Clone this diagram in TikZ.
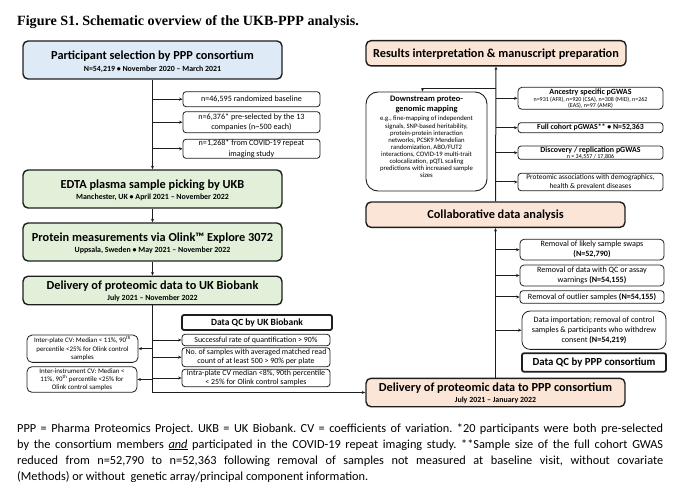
\documentclass[tikz,border=0pt]{standalone}
\usepackage{fontspec}
\setmainfont{Carlito}
\newfontfamily\titlefont{Liberation Serif}
\usetikzlibrary{arrows.meta,calc}
\definecolor{cblue}{HTML}{DEEBF7}
\definecolor{cgreen}{HTML}{E2F0D9}
\definecolor{cpeach}{HTML}{FBE5D6}
\definecolor{cline}{HTML}{1E1E1E}
\frenchspacing
\tikzset{
 bigbox/.style={draw=cline, line width=1.4pt, rounded corners=5pt, inner sep=0pt},
 smallbox/.style={draw=cline, line width=0.8pt, rounded corners=3pt, align=center, inner sep=0pt},
 qcbox/.style={draw=cline, line width=1.8pt, rounded corners=2pt, fill=white, inner sep=0pt},
 bigtitle/.style={font=\fontsize{12.3}{13}\selectfont\bfseries, inner sep=0pt},
 subtitle/.style={font=\fontsize{7.9}{8}\selectfont\bfseries, inner sep=0pt},
 conn/.style={draw=cline, line width=1pt},
 arr/.style={conn, -{Stealth[length=3.5pt,width=3pt]}},
 foot/.style={anchor=base west, inner sep=0pt, font=\fontsize{12.3}{14}\selectfont},
}
\begin{document}
\begin{tikzpicture}[x=1pt,y=-1pt]
\useasboundingbox (0,0) rectangle (681,492);
% title
\node[anchor=base west, inner sep=0pt, font=\titlefont\fontsize{14.1}{16}\selectfont\bfseries] (title) at (17,25.5) {Figure S1. Schematic overview of the UKB-PPP analysis.};

% ---------- left column ----------
\node[bigbox, fill=cblue, minimum width=259pt, minimum height=38pt] (p1) at (152.5,60) {};
\node[bigtitle] (p1t) at (152.5,56) {Participant selection by PPP consortium};
\node[subtitle] (p1s) at (152.5,69.5) {N=54,219 • November 2020 – March 2021};

\node[smallbox, minimum width=137pt, minimum height=15pt, font=\fontsize{8.1}{9.5}\selectfont] (b1) at (251.5,99.2) {n=46,595 randomized baseline};
\node[smallbox, minimum width=137pt, minimum height=21pt, font=\fontsize{8.1}{10.2}\selectfont] (b2) at (251.5,122.2) {n=6,376* pre-selected by the 13\\companies (n\textasciitilde500 each)};
\node[smallbox, minimum width=137pt, minimum height=19pt, font=\fontsize{8.1}{10.5}\selectfont] (b3) at (251.5,148.8) {n=1,268* from COVID-19 repeat\\imaging study};

\node[bigbox, fill=cgreen, minimum width=259pt, minimum height=38pt] (edta) at (152.5,189) {};
\node[bigtitle] (edtat) at (152.5,185) {EDTA plasma sample picking by UKB};
\node[subtitle] (edtas) at (152.5,197) {Manchester, UK • April 2021 – November 2022};

\node[bigbox, fill=cgreen, minimum width=259pt, minimum height=38pt] (prot) at (152.5,242) {};
\node[bigtitle] (prott) at (152.5,238.3) {Protein measurements via Olink™ Explore 3072};
\node[subtitle] (prots) at (152.5,250.3) {Uppsala, Sweden • May 2021 – November 2022};

\node[bigbox, fill=cgreen, minimum width=259pt, minimum height=28.5pt] (dukb) at (152.5,290.5) {};
\node[bigtitle] (dukbt) at (152.5,286) {Delivery of proteomic data to UK Biobank};
\node[subtitle] (dukbs) at (152.5,298) {July 2021 – November 2022};

\node[qcbox, minimum width=150pt, minimum height=15pt, font=\fontsize{9.5}{10}\selectfont\bfseries] (qcukb) at (257,322.5) {Data QC by UK Biobank};
\node[smallbox, minimum width=148pt, minimum height=11.4pt, font=\fontsize{7.9}{8.7}\selectfont] (r1) at (256,340) {Successful rate of quantification > 90\%};
\node[smallbox, minimum width=148pt, minimum height=19pt, font=\fontsize{7.9}{8.7}\selectfont] (r2) at (256,357.2) {No. of samples with averaged matched read\\count of at least 500 > 90\% per plate};
\node[smallbox, minimum width=148pt, minimum height=17.4pt, font=\fontsize{7.9}{8.7}\selectfont] (r3) at (256,378) {Intra-plate CV median <8\%, 90th percentile\\< 25\% for Olink control samples};

\node[smallbox, rounded corners=5pt, minimum width=111pt, minimum height=27.3pt, font=\fontsize{6.9}{8.6}\selectfont] (lb1) at (82.5,348.7) {Inter-plate CV: Median < 11\%, 90\textsuperscript{th}\\percentile <25\% for Olink control\\samples};
\node[smallbox, rounded corners=5pt, minimum width=110pt, minimum height=25.6pt, font=\fontsize{6.9}{8.3}\selectfont] (lb2) at (82,379.5) {Inter-instrument CV: Median <\\11\%, 90\textsuperscript{th} percentile <25\% for\\Olink control samples};

% ---------- right column ----------
\node[bigbox, fill=cpeach, minimum width=260pt, minimum height=25.3pt] (res) at (496,53.3) {};
\node[bigtitle] (rest) at (496,54) {Results interpretation \& manuscript preparation};

\node[draw=cline, line width=0.9pt, rounded corners=12pt, minimum width=121pt, minimum height=99pt, inner sep=0pt] (down) at (426.5,141.5) {};
\node[inner sep=0pt, align=center, font=\fontsize{8.4}{10}\selectfont\bfseries] (downh) at (426.5,104.5) {Downstream proteo-\\genomic mapping};
\node[inner sep=0pt, align=center, font=\fontsize{6.7}{7.1}\selectfont] (downb) at (426.5,147) {e.g., fine-mapping of independent\\signals, SNP-based heritability,\\protein-protein interaction\\networks, PCSK9 Mendelian\\randomization, ABO/FUT2\\interactions, COVID-19 multi-trait\\colocalization, pQTL scaling\\predictions with increased sample\\sizes};

\node[smallbox, rounded corners=4pt, minimum width=145pt, minimum height=22pt] (anc) at (590.5,98.3) {};
\node[inner sep=0pt, font=\fontsize{8}{8}\selectfont\bfseries] (anct) at (590.5,92) {Ancestry specific pGWAS};
\node[inner sep=0pt, align=center, font=\fontsize{6}{6.2}\selectfont] (ancs) at (590.5,102.5) {n=931 (AFR), n=920 (CSA), n=308 (MID), n=262\\(EAS), n=97 (AMR)};

\node[smallbox, minimum width=145pt, minimum height=10pt, font=\fontsize{7.8}{8}\selectfont\bfseries] (full) at (590.5,127.7) {Full cohort pGWAS** • N=52,363};

\node[smallbox, minimum width=145pt, minimum height=13.3pt] (disc) at (590.5,152.7) {};
\node[inner sep=0pt, font=\fontsize{7.9}{8}\selectfont\bfseries] (disct) at (590.5,150.3) {Discovery / replication pGWAS};
\node[inner sep=0pt, font=\fontsize{6}{6.2}\selectfont] (discs) at (590.5,156.8) {n = 34,557 / 17,806};

\node[smallbox, minimum width=145pt, minimum height=17.4pt, font=\fontsize{7.3}{8.3}\selectfont] (pa) at (590.5,182) {Proteomic associations with demographics,\\health \& prevalent diseases};

\node[bigbox, fill=cpeach, minimum width=259pt, minimum height=25.3pt] (coll) at (495.5,214.7) {};
\node[bigtitle] (collt) at (495.5,215) {Collaborative data analysis};

\node[smallbox, rounded corners=4pt, minimum width=144pt, minimum height=20.7pt, font=\fontsize{8.1}{10}\selectfont] (rs1) at (592,249.7) {Removal of likely sample swaps\\\textbf{(N=52,790)}};
\node[smallbox, rounded corners=4pt, minimum width=144pt, minimum height=21pt, font=\fontsize{8.1}{10}\selectfont] (rs2) at (592,275.5) {Removal of data with QC or assay\\warnings \textbf{(N=54,155)}};
\node[smallbox, rounded corners=3pt, minimum width=144pt, minimum height=12.6pt, font=\fontsize{8.1}{10}\selectfont] (rs3) at (592,297) {Removal of outlier samples \textbf{(N=54,155)}};
\node[smallbox, rounded corners=8pt, minimum width=144pt, minimum height=38.3pt, font=\fontsize{8.1}{9.8}\selectfont] (rs4) at (594,330.2) {Data importation; removal of control\\samples \& participants who withdrew\\consent \textbf{(N=54,219)}};
\node[qcbox, minimum width=144pt, minimum height=18.4pt, font=\fontsize{10.8}{11}\selectfont\bfseries] (qcppp) at (594,362.5) {Data QC by PPP consortium};

\node[bigbox, fill=cpeach, minimum width=259pt, minimum height=28.4pt] (dppp) at (495.5,392.5) {};
\node[bigtitle] (dpppt) at (495.5,388.3) {Delivery of proteomic data to PPP consortium};
\node[subtitle] (dppps) at (495.5,400.2) {July 2021 – January 2022};

% ---------- connectors left ----------
\draw[arr] (p1.south) -- (edta.north);
\draw[arr] (p1.south |- b1.west) -- (b1.west);
\draw[arr] (p1.south |- b2.west) -- (b2.west);
\draw[arr] (p1.south |- b3.west) -- (b3.west);
\draw[arr] (edta.south) -- (prot.north);
\draw[arr] (prot.south) -- (dukb.north);
\coordinate (lcorner) at (dukb.south |- dppp.west);
\draw[arr] (dukb.south) -- (lcorner) -- (dppp.west);
\draw[arr] (dukb.south |- r1.west) -- (r1.west);
\draw[arr] (dukb.south |- r2.west) -- (r2.west);
\draw[arr] (dukb.south |- r3.west) -- (r3.west);
\draw[arr] (dukb.south |- lb1.east) -- (lb1.east);
\draw[arr] (dukb.south |- lb2.east) -- (lb2.east);

% ---------- connectors right ----------
\draw[arr] (coll.north) -- (res.south);
\coordinate (dturn) at ($(res.south)+(0,22)$);
\draw[arr] (dturn) -| ($(down.north)+(-4,0)$);
\draw[arr] (coll.north |- anc.west) -- (anc.west);
\draw[arr] (coll.north |- full.west) -- (full.west);
\draw[arr] (coll.north |- disc.west) -- (disc.west);
\draw[arr] (coll.north |- pa.west) -- (pa.west);
\draw[arr] (dppp.north) -- (coll.south);
\draw[arr] (dppp.north |- rs1.west) -- (rs1.west);
\draw[arr] (dppp.north |- rs2.west) -- (rs2.west);
\draw[arr] (dppp.north |- rs3.west) -- (rs3.west);
\draw[arr] (dppp.north |- rs4.west) -- (rs4.west);

% ---------- footnote ----------
\node[foot] (f1) at (17,432) {\makebox[646pt][s]{PPP = Pharma Proteomics Project. UKB = UK Biobank. CV = coefficients of variation. *20 participants were both pre-selected}};
\node[foot] (f2) at (17,448) {\makebox[646pt][s]{by the consortium members \underline{\textit{and}} participated in the COVID-19 repeat imaging study. **Sample size of the full cohort GWAS}};
\node[foot] (f3) at (17,464) {\makebox[646pt][s]{reduced from n=52,790 to n=52,363 following removal of samples not measured at baseline visit, without covariate}};
\node[foot] (f4) at (17,480) {(Methods) or without\ \ genetic array/principal component information.};
\end{tikzpicture}
\end{document}
